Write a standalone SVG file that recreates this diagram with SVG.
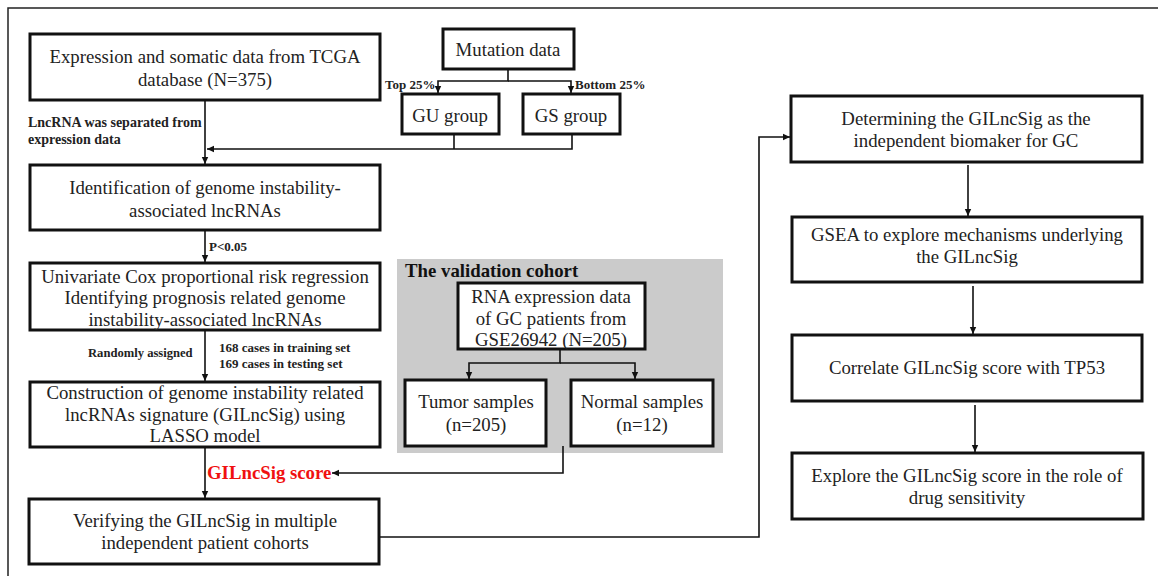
<svg xmlns="http://www.w3.org/2000/svg" width="1158" height="576" viewBox="0 0 1158 576">
<defs>
<marker id="ah" markerWidth="8" markerHeight="8" refX="7" refY="4" orient="auto" markerUnits="userSpaceOnUse">
<path d="M0,0.8 L7,4 L0,7.2 Z" fill="#111"/>
</marker>
<style>
.box{fill:#fff;stroke:#111;stroke-width:3}
.t{font-family:"Liberation Serif","Times New Roman",serif;font-size:18.8px;fill:#222;text-anchor:middle}
.lb{font-family:"Liberation Serif","Times New Roman",serif;font-size:13px;font-weight:bold;fill:#222}
.c{fill:none;stroke:#111;stroke-width:1.6}
.ca{fill:none;stroke:#111;stroke-width:1.6;marker-end:url(#ah)}
</style>
</defs>
<rect width="1158" height="576" fill="#fff"/>
<path d="M8,576 L8,8 L1158,8" fill="none" stroke="#222" stroke-width="1.5"/>
<g id="validation-bg">
<rect x="397" y="259" width="326" height="194" fill="#cbcbcb"/>
<text x="405" y="277" font-family="Liberation Serif, serif" font-size="18.8" font-weight="bold" fill="#111">The validation cohort</text>
</g>
<g id="connectors">
<path class="ca" d="M205,100 L205,164"/>
<path class="ca" d="M508,69 L508,81 L438,81 L438,93"/>
<path class="ca" d="M508,81 L571,81 L571,93"/>
<path class="c" d="M454,134 L454,149"/>
<path class="ca" d="M572,134 L572,149 L207,149"/>
<path class="ca" d="M205,230 L205,262"/>
<path class="ca" d="M205,330 L205,381"/>
<path class="ca" d="M205,447 L205,498"/>
<path class="ca" d="M560,349 L560,363 L469,363 L469,379"/>
<path class="ca" d="M560,363 L635,363 L635,379"/>
<path class="ca" d="M563,446 L563,473 L332,473"/>
<path class="ca" d="M380,537 L759,537 L759,137 L790,137"/>
<path class="ca" d="M968,165 L968,216"/>
<path class="ca" d="M973,286 L973,334"/>
<path class="ca" d="M975,405 L975,452"/>
</g>
<g id="labels">
<text class="lb" x="28" y="127" style="font-size:14px">LncRNA was separated from</text>
<text class="lb" x="28" y="144" style="font-size:14px">expression data</text>
<text class="lb" x="385" y="89">Top 25%</text>
<text class="lb" x="575" y="89">Bottom 25%</text>
<text class="lb" x="209" y="251">P&lt;0.05</text>
<text class="lb" x="88" y="357" style="font-size:12.6px">Randomly assigned</text>
<text class="lb" x="219" y="352">168 cases in training set</text>
<text class="lb" x="219" y="368">169 cases in testing set</text>
<text x="207" y="479" font-family="Liberation Serif, serif" font-size="18.8" font-weight="bold" fill="#f01010">GILncSig score</text>
</g>
<g id="n-tcga"><rect class="box" x="30" y="34" width="350" height="66"/>
<text class="t" x="205" y="63">Expression and somatic data from TCGA</text>
<text class="t" x="205" y="86">database (N=375)</text></g>
<g id="n-mutation"><rect class="box" x="443" y="29" width="131" height="40"/>
<text class="t" x="508" y="56">Mutation data</text></g>
<g id="n-gu"><rect class="box" x="402" y="94" width="97" height="40"/>
<text class="t" x="450" y="122">GU group</text></g>
<g id="n-gs"><rect class="box" x="523" y="94" width="97" height="40"/>
<text class="t" x="571" y="122">GS group</text></g>
<g id="n-ident"><rect class="box" x="30" y="165" width="350" height="65"/>
<text class="t" x="205" y="194">Identification of genome instability-</text>
<text class="t" x="205" y="217">associated lncRNAs</text></g>
<g id="n-cox"><rect class="box" x="30" y="263" width="350" height="67"/>
<text class="t" x="205" y="283">Univariate Cox proportional risk regression</text>
<text class="t" x="205" y="304">Identifying prognosis related genome</text>
<text class="t" x="205" y="326">instability-associated lncRNAs</text></g>
<g id="n-lasso"><rect class="box" x="30" y="382" width="350" height="65"/>
<text class="t" x="205" y="399">Construction of genome instability related</text>
<text class="t" x="205" y="421">lncRNAs signature (GILncSig) using</text>
<text class="t" x="205" y="442">LASSO model</text></g>
<g id="n-verify"><rect class="box" x="29" y="499" width="350" height="65"/>
<text class="t" x="205" y="527">Verifying the GILncSig in multiple</text>
<text class="t" x="205" y="549">independent patient cohorts</text></g>
<g id="n-rna"><rect class="box" x="458" y="283" width="187" height="66"/>
<text class="t" x="551" y="303">RNA expression data</text>
<text class="t" x="551" y="325">of GC patients from</text>
<text class="t" x="551" y="346">GSE26942 (N=205)</text></g>
<g id="n-tumor"><rect class="box" x="405" y="380" width="141" height="66"/>
<text class="t" x="476" y="408">Tumor samples</text>
<text class="t" x="476" y="431">(n=205)</text></g>
<g id="n-normal"><rect class="box" x="571" y="380" width="142" height="66"/>
<text class="t" x="642" y="408">Normal samples</text>
<text class="t" x="642" y="431">(n=12)</text></g>
<g id="n-biomarker"><rect class="box" x="791" y="96" width="351" height="66"/>
<text class="t" x="966" y="125">Determining the GILncSig as the</text>
<text class="t" x="966" y="147">independent biomaker for GC</text></g>
<g id="n-gsea"><rect class="box" x="792" y="217" width="350" height="65"/>
<text class="t" x="967" y="241">GSEA to explore mechanisms underlying</text>
<text class="t" x="967" y="263">the GILncSig</text></g>
<g id="n-tp53"><rect class="box" x="792" y="335" width="350" height="66"/>
<text class="t" x="967" y="374">Correlate GILncSig score with TP53</text></g>
<g id="n-drug"><rect class="box" x="792" y="453" width="351" height="66"/>
<text class="t" x="967" y="482">Explore the GILncSig score in the role of</text>
<text class="t" x="967" y="504">drug sensitivity</text></g>
</svg>
